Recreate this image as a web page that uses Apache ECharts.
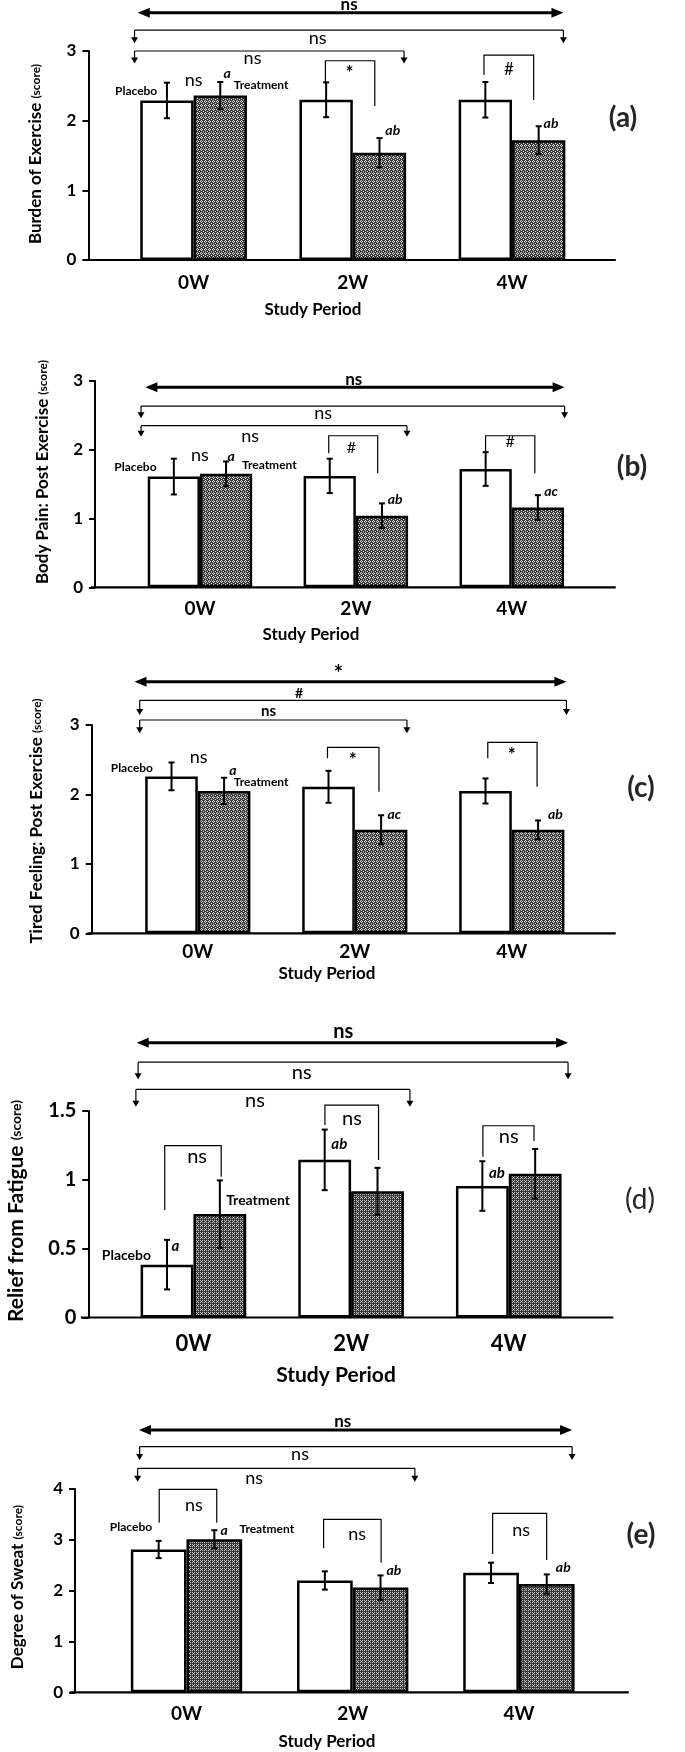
<!DOCTYPE html>
<html><head><meta charset="utf-8">
<script src="https://cdn.jsdelivr.net/npm/echarts@6/dist/echarts.min.js"></script>
<style>html,body{margin:0;padding:0;background:#fff}#c{width:685px;height:1752px}</style>
</head><body><div id="c"></div>
<script>
// ---------------- DATA ----------------
const categories = ['0W', '2W', '4W'];

const burdenPlacebo = [2.29, 2.30, 2.30];
const burdenPlaceboErr = [0.255, 0.25, 0.255];
const burdenTreatment = [2.36, 1.54, 1.72];
const burdenTreatmentErr = [0.195, 0.21, 0.20];

const painPlacebo = [1.61, 1.62, 1.72];
const painPlaceboErr = [0.26, 0.25, 0.245];
const painTreatment = [1.65, 1.04, 1.16];
const painTreatmentErr = [0.18, 0.18, 0.18];

const tiredPlacebo = [2.26, 2.11, 2.05];
const tiredPlaceboErr = [0.20, 0.23, 0.18];
const tiredTreatment = [2.05, 1.49, 1.49];
const tiredTreatmentErr = [0.19, 0.21, 0.135];

const reliefPlacebo = [0.384, 1.145, 0.955];
const reliefPlaceboErr = [0.18, 0.22, 0.18];
const reliefTreatment = [0.751, 0.917, 1.044];
const reliefTreatmentErr = [0.245, 0.17, 0.18];

const sweatPlacebo = [2.81, 2.20, 2.35];
const sweatPlaceboErr = [0.17, 0.18, 0.20];
const sweatTreatment = [3.01, 2.06, 2.13];
const sweatTreatmentErr = [0.18, 0.24, 0.19];

const ticksA = [0, 1, 2, 3];
const ticksB = [0, 1, 2, 3];
const ticksC = [0, 1, 2, 3];
const ticksD = [0, 0.5, 1, 1.5];
const ticksE = [0, 1, 2, 3, 4];

const titles = ['Burden of Exercise ', 'Body Pain: Post Exercise ', 'Tired Feeling: Post Exercise ', 'Relief from Fatigue ', 'Degree of Sweat '];
const panelTags = ['(a)', '(b)', '(c)', '(d)', '(e)'];
const xTitle = 'Study Period';

// ---------------- LAYOUT ----------------
const FF = 'Lato, "Open Sans", sans-serif';
function mkPattern(fine) {
  const c = document.createElement('canvas');
  c.width = 4; c.height = 4;
  const g = c.getContext('2d');
  g.fillStyle = fine ? '#3a3a3a' : '#3c3c3c';
  g.fillRect(0, 0, 4, 4);
  g.fillStyle = fine ? '#bdbdbd' : '#dcdcdc';
  if (fine) {
    [[0,0],[2,0],[0,2],[2,2],[1,1]].forEach(p => g.fillRect(p[0], p[1], 1, 1));
  } else {
    [[1,0],[0,1],[2,1],[1,2],[3,3]].forEach(p => g.fillRect(p[0], p[1], 1, 1));
  }
  return c;
}
const patCoarse = mkPattern(false);
const patFine = mkPattern(true);

const panels = [
  { p: burdenPlacebo, pe: burdenPlaceboErr, t: burdenTreatment, te: burdenTreatmentErr, ticks: ticksA,
    grid: {left: 114, top: 51, width: 477.6, height: 209}, yOff: 25.6, tickFont: 17, labFont: 19, labMargin: 13, xExt: [-0.694, 2.652],
    pat: patCoarse, titleFont: 17, titleSub: 12, titleXY: [36, 154], tagXY: [623, 118], tagBold: true, spXY: [313, 310], spFont: 17 },
  { p: painPlacebo, pe: painPlaceboErr, t: painTreatment, te: painTreatmentErr, ticks: ticksB,
    grid: {left: 122, top: 381, width: 467.7, height: 206.3}, yOff: 26.9, tickFont: 17, labFont: 19, labMargin: 12, xExt: [-0.70, 2.667],
    pat: patCoarse, titleFont: 17, titleSub: 12, titleXY: [43, 472], tagXY: [632, 467], tagBold: true, spXY: [311, 635], spFont: 17 },
  { p: tiredPlacebo, pe: tiredPlaceboErr, t: tiredTreatment, te: tiredTreatmentErr, ticks: ticksC,
    grid: {left: 119.3, top: 725, width: 471, height: 208.3}, yOff: 27.6, tickFont: 17, labFont: 19, labMargin: 9, xExt: [-0.704, 2.662],
    pat: patCoarse, titleFont: 17, titleSub: 12, titleXY: [37, 821], tagXY: [641, 788], tagBold: true, spXY: [327, 974], spFont: 17 },
  { p: reliefPlacebo, pe: reliefPlaceboErr, t: reliefTreatment, te: reliefTreatmentErr, ticks: ticksD,
    grid: {left: 114.6, top: 1111, width: 473, height: 206.5}, yOff: 26.3, tickFont: 20, labFont: 22, labMargin: 15, xExt: [-0.714, 2.663],
    pat: patFine, titleFont: 21, titleSub: 14, titleXY: [16, 1211], tagXY: [640, 1200], tagBold: false, spXY: [336, 1375], spFont: 21 },
  { p: sweatPlacebo, pe: sweatPlaceboErr, t: sweatTreatment, te: sweatTreatmentErr, ticks: ticksE,
    grid: {left: 103.4, top: 1489, width: 498.6, height: 203.3}, yOff: 28.3, tickFont: 17, labFont: 19, labMargin: 12, xExt: [-0.702, 2.661],
    pat: patFine, titleFont: 17, titleSub: 12, titleXY: [18, 1587], tagXY: [641, 1535], tagBold: true, spXY: [327, 1742], spFont: 17 }
];

// annotations in data units: x = category position (0W=0,2W=1,4W=2), y = axis value
const N = 'normal 18px ' + FF, NB = 'bold 17px ' + FF, IT = 'italic bold 14px ' + FF, LB = 'bold 12px ' + FF;
const ST = 'bold 18px ' + FF;
const annots = [
  [ {k:'dArrow', x1:-0.351, x2:2.323, y:3.55}, {k:'text', x:0.977, y:3.674, s:'ns', f:NB},
    {k:'bArrow', x1:-0.371, x2:2.323, y:3.30, tip:3.11}, {k:'text', x:0.779, y:3.19, s:'ns', f:N},
    {k:'bArrow', x1:-0.371, x2:1.322, y:3.0, tip:2.82}, {k:'text', x:0.37, y:2.895, s:'ns', f:N},
    {k:'text', x:0, y:2.58, s:'ns', f:N}, {k:'text', x:0.211, y:2.68, s:'a', f:IT},
    {k:'text', x:-0.361, y:2.43, s:'Placebo', f:LB}, {k:'text', x:0.424, y:2.51, s:'Treatment', f:LB},
    {k:'bracket', x1:0.828, y1:2.536, top:2.86, x2:1.138, y2:2.21}, {k:'text', x:0.979, y:2.68, s:'*', f:ST},
    {k:'text', x:1.251, y:1.856, s:'ab', f:IT},
    {k:'bracket', x1:1.824, y1:2.655, top:2.94, x2:2.136, y2:2.297}, {k:'text', x:1.98, y:2.74, s:'#', f:'normal 17px ' + FF},
    {k:'text', x:2.245, y:1.966, s:'ab', f:IT} ],
  [ {k:'dArrow', x1:-0.350, x2:2.339, y:2.908}, {k:'text', x:0.986, y:3.025, s:'ns', f:NB},
    {k:'bArrow', x1:-0.378, x2:2.339, y:2.636, tip:2.457}, {k:'text', x:0.79, y:2.53, s:'ns', f:N},
    {k:'bArrow', x1:-0.378, x2:1.328, y:2.35, tip:2.19}, {k:'text', x:0.322, y:2.204, s:'ns', f:N},
    {k:'text', x:0, y:1.924, s:'ns', f:N}, {k:'text', x:0.2, y:1.909, s:'a', f:IT},
    {k:'text', x:-0.414, y:1.754, s:'Placebo', f:LB}, {k:'text', x:0.445, y:1.778, s:'Treatment', f:LB},
    {k:'bracket', x1:0.826, y1:1.949, top:2.204, x2:1.14, y2:1.658}, {k:'text', x:0.972, y:2.03, s:'#', f:'normal 16px ' + FF},
    {k:'text', x:1.252, y:1.28, s:'ab', f:IT},
    {k:'bracket', x1:1.832, y1:1.972, top:2.204, x2:2.148, y2:1.658}, {k:'text', x:1.989, y:2.117, s:'#', f:'normal 16px ' + FF},
    {k:'text', x:2.252, y:1.39, s:'ac', f:IT} ],
  [ {k:'dArrow', x1:-0.403, x2:2.348, y:3.624}, {k:'text', x:0.896, y:3.74, s:'*', f:'bold 22px ' + FF},
    {k:'bArrow', x1:-0.37, x2:2.348, y:3.356, tip:3.144}, {k:'text', x:0.645, y:3.457, s:'#', f:'bold 14px ' + FF},
    {k:'bArrow', x1:-0.37, x2:1.332, y:3.072, tip:2.881}, {k:'text', x:0.451, y:3.206, s:'ns', f:'bold 15px ' + FF},
    {k:'text', x:0.006, y:2.535, s:'ns', f:N},
    {k:'text', x:-0.42, y:2.381, s:'Placebo', f:LB}, {k:'text', x:0.223, y:2.352, s:'a', f:IT},
    {k:'text', x:0.403, y:2.175, s:'Treatment', f:LB},
    {k:'bracket', x1:0.826, y1:2.52, top:2.679, x2:1.154, y2:2.04}, {k:'text', x:0.987, y:2.49, s:'*', f:ST},
    {k:'text', x:1.252, y:1.718, s:'ac', f:IT},
    {k:'bracket', x1:1.847, y1:2.52, top:2.751, x2:2.161, y2:2.111}, {k:'text', x:2.0, y:2.57, s:'*', f:ST},
    {k:'text', x:2.278, y:1.718, s:'ab', f:IT} ],
  [ {k:'dArrow', x1:-0.36, x2:2.376, y:1.996}, {k:'text', x:0.95, y:2.076, s:'ns', f:'bold 20px ' + FF},
    {k:'bArrow', x1:-0.351, x2:2.376, y:1.855, tip:1.73}, {k:'text', x:0.687, y:1.781, s:'ns', f:'normal 20px ' + FF},
    {k:'bArrow', x1:-0.365, x2:1.373, y:1.657, tip:1.531}, {k:'text', x:0.39, y:1.574, s:'ns', f:'normal 20px ' + FF},
    {k:'bracket', x1:-0.182, y1:0.781, top:1.248, x2:0.176, y2:1.022}, {k:'text', x:0.023, y:1.168, s:'ns', f:'normal 20px ' + FF},
    {k:'bracket', x1:0.834, y1:1.398, top:1.543, x2:1.174, y2:1.144}, {k:'text', x:1.005, y:1.447, s:'ns', f:'normal 20px ' + FF},
    {k:'bracket', x1:1.836, y1:1.168, top:1.393, x2:2.16, y2:1.282}, {k:'text', x:2.0, y:1.313, s:'ns', f:'normal 20px ' + FF},
    {k:'text', x:-0.114, y:0.521, s:'a', f:'italic bold 15px ' + FF},
    {k:'text', x:-0.425, y:0.454, s:'Placebo', f:'bold 14px ' + FF}, {k:'text', x:0.41, y:0.853, s:'Treatment', f:'bold 14px ' + FF},
    {k:'text', x:0.925, y:1.258, s:'ab', f:'italic bold 15px ' + FF}, {k:'text', x:1.925, y:1.052, s:'ab', f:'italic bold 15px ' + FF} ],
  [ {k:'dArrow', x1:-0.286, x2:2.32, y:5.16}, {k:'text', x:0.94, y:5.324, s:'ns', f:'bold 17px ' + FF},
    {k:'bArrow', x1:-0.282, x2:2.32, y:4.832, tip:4.57}, {k:'text', x:0.683, y:4.688, s:'ns', f:N},
    {k:'bArrow', x1:-0.294, x2:1.374, y:4.407, tip:4.143}, {k:'text', x:0.407, y:4.222, s:'ns', f:N},
    {k:'bracket', x1:-0.164, y1:3.337, top:3.994, x2:0.182, y2:3.337}, {k:'text', x:0.045, y:3.685, s:'ns', f:N},
    {k:'bracket', x1:0.825, y1:2.833, top:3.404, x2:1.171, y2:2.55}, {k:'text', x:1.027, y:3.114, s:'ns', f:N},
    {k:'bracket', x1:1.842, y1:2.721, top:3.522, x2:2.167, y2:2.603}, {k:'text', x:2.013, y:3.193, s:'ns', f:N},
    {k:'text', x:-0.334, y:3.258, s:'Placebo', f:LB}, {k:'text', x:0.226, y:3.179, s:'a', f:IT},
    {k:'text', x:0.483, y:3.207, s:'Treatment', f:LB},
    {k:'text', x:1.248, y:2.406, s:'ab', f:IT}, {k:'text', x:2.267, y:2.451, s:'ab', f:IT} ]
];

// ---------------- CHART ----------------
const chart = echarts.init(document.getElementById('c'), null, {renderer: 'canvas'});
const BAR_GAP_CAT = 0.33;

function errSeries(i, means, errs, sign) {
  return {
    type: 'custom', xAxisIndex: i, yAxisIndex: i, z: 5, silent: true,
    data: means.map((m, k) => [k, m, errs[k]]),
    renderItem: function (params, api) {
      const c = api.value(0), m = api.value(1), e = api.value(2);
      const band = api.size([1, 0])[0];
      const bw = band * (1 - BAR_GAP_CAT) / 2;
      const x = api.coord([c, m])[0] + sign * bw / 2;
      const yt = api.coord([c, m + e])[1], yb = api.coord([c, m - e])[1];
      const st = {stroke: '#000', lineWidth: 2};
      return {type: 'group', children: [
        {type: 'line', shape: {x1: x, y1: yt, x2: x, y2: yb}, style: st},
        {type: 'line', shape: {x1: x - 3, y1: yt, x2: x + 3, y2: yt}, style: st},
        {type: 'line', shape: {x1: x - 3, y1: yb, x2: x + 3, y2: yb}, style: st}
      ]};
    }
  };
}

const grids = [], xAxes = [], yAxes = [], series = [];
panels.forEach((P, i) => {
  grids.push(Object.assign({containLabel: false, outerBoundsMode: 'none'}, P.grid));
  xAxes.push({gridIndex: i, type: 'category', data: categories,
    axisLine: {show: false}, axisTick: {show: false},
    axisLabel: {fontSize: P.labFont, fontWeight: 'bold', fontFamily: FF, color: '#000', margin: P.labMargin}});
  const tk = P.ticks;
  yAxes.push({gridIndex: i, type: 'value', min: tk[0], max: tk[tk.length - 1], interval: tk[1] - tk[0],
    offset: P.yOff, splitLine: {show: false},
    axisLine: {show: true, lineStyle: {color: '#000', width: 2}},
    axisTick: {show: true, length: 6, lineStyle: {color: '#000', width: 2}},
    axisLabel: {fontSize: P.tickFont, fontWeight: 'bold', fontFamily: FF, color: '#000', margin: 12}});
  series.push({type: 'bar', name: 'Placebo', xAxisIndex: i, yAxisIndex: i, data: P.p,
    barGap: '0%', barCategoryGap: '33%',
    itemStyle: {color: '#fff', borderColor: '#000', borderWidth: 2.5}});
  series.push({type: 'bar', name: 'Treatment', xAxisIndex: i, yAxisIndex: i, data: P.t,
    barGap: '0%', barCategoryGap: '33%',
    itemStyle: {color: {image: P.pat, repeat: 'repeat'}, borderColor: '#000', borderWidth: 2.5}});
  series.push(errSeries(i, P.p, P.pe, -1));
  series.push(errSeries(i, P.t, P.te, 1));
});

chart.setOption({animation: false, backgroundColor: '#fff', grid: grids, xAxis: xAxes, yAxis: yAxes, series: series});

// ---------------- ANNOTATIONS (through axis scales) ----------------
function px(i, c) {
  const p0 = chart.convertToPixel({xAxisIndex: i}, categories[0]);
  const p1 = chart.convertToPixel({xAxisIndex: i}, categories[1]);
  return p0 + c * (p1 - p0);
}
function py(i, v) { return chart.convertToPixel({yAxisIndex: i}, v); }

const G = [];
const thin = {stroke: '#000', lineWidth: 1.2};
function txt(x, y, s, font, fill) {
  G.push({type: 'text', x: x, y: y, z: 100,
    style: {text: s, font: font, fill: fill || '#000', align: 'center', verticalAlign: 'middle', textAlign: 'center', textVerticalAlign: 'middle'}});
}
function downArrow(x, yLine, yTip) {
  G.push({type: 'line', z: 100, shape: {x1: x, y1: yLine, x2: x, y2: yTip - 5}, style: thin});
  G.push({type: 'polygon', z: 100, shape: {points: [[x - 3.5, yTip - 6], [x + 3.5, yTip - 6], [x, yTip]]}, style: {fill: '#000'}});
}
panels.forEach((P, i) => {
  const y0 = py(i, 0);
  // x baseline
  G.push({type: 'line', z: 50, shape: {x1: px(i, P.xExt[0]), y1: y0, x2: px(i, P.xExt[1]), y2: y0}, style: {stroke: '#000', lineWidth: 2.2}});
  annots[i].forEach(a => {
    if (a.k === 'dArrow') {
      const x1 = px(i, a.x1), x2 = px(i, a.x2), y = py(i, a.y);
      G.push({type: 'line', z: 100, shape: {x1: x1 + 8, y1: y, x2: x2 - 8, y2: y}, style: {stroke: '#000', lineWidth: 3}});
      G.push({type: 'polygon', z: 100, shape: {points: [[x1, y], [x1 + 12, y - 5], [x1 + 12, y + 5]]}, style: {fill: '#000'}});
      G.push({type: 'polygon', z: 100, shape: {points: [[x2, y], [x2 - 12, y - 5], [x2 - 12, y + 5]]}, style: {fill: '#000'}});
    } else if (a.k === 'bArrow') {
      const x1 = px(i, a.x1), x2 = px(i, a.x2), y = py(i, a.y), t = py(i, a.tip);
      G.push({type: 'line', z: 100, shape: {x1: x1, y1: y, x2: x2, y2: y}, style: thin});
      downArrow(x1, y, t); downArrow(x2, y, t);
    } else if (a.k === 'bracket') {
      const x1 = px(i, a.x1), x2 = px(i, a.x2);
      G.push({type: 'polyline', z: 100, shape: {points: [[x1, py(i, a.y1)], [x1, py(i, a.top)], [x2, py(i, a.top)], [x2, py(i, a.y2)]]}, style: Object.assign({fill: null}, thin)});
    } else if (a.k === 'text') {
      txt(px(i, a.x), py(i, a.y), a.s, a.f);
    }
  });
  // y title
  G.push({type: 'text', x: P.titleXY[0], y: P.titleXY[1], rotation: Math.PI / 2, z: 100,
    style: {text: '{m|' + titles[i] + '}{s|(score)}', align: 'center', verticalAlign: 'middle', textAlign: 'center', textVerticalAlign: 'middle',
      rich: {m: {fontSize: P.titleFont, fontWeight: 'bold', fontFamily: FF, fill: '#000', color: '#000'},
             s: {fontSize: P.titleSub, fontWeight: 'bold', fontFamily: FF, fill: '#000', color: '#000'}}}});
  // x title
  txt(P.spXY[0], P.spXY[1], xTitle, 'bold ' + P.spFont + 'px ' + FF);
  // panel tag
  txt(P.tagXY[0], P.tagXY[1], panelTags[i], (P.tagBold ? 'bold ' : 'normal ') + '28px ' + FF, '#262626');
});
chart.setOption({graphic: {elements: G}});
</script>
</body></html>
